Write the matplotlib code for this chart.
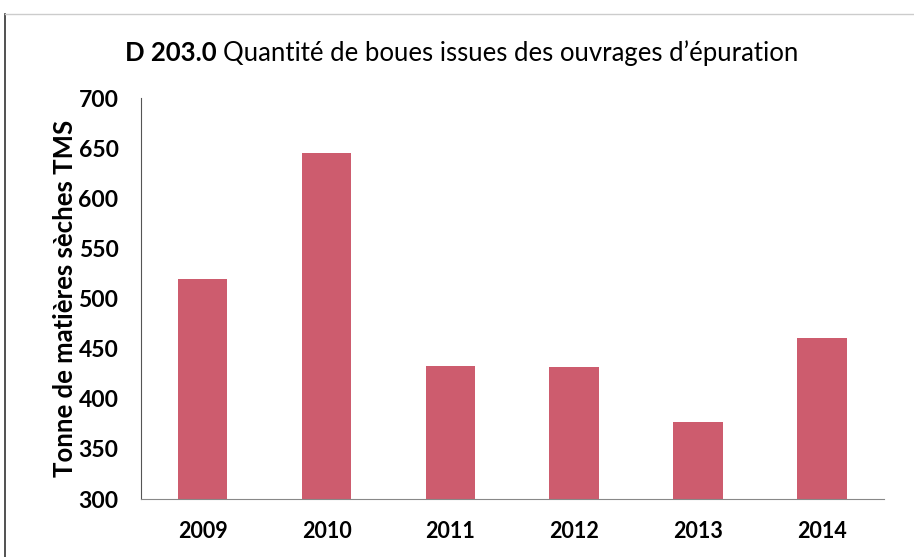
import matplotlib.pyplot as plt
from matplotlib.lines import Line2D

years = ["2009", "2010", "2011", "2012", "2013", "2014"]
tms = [520, 645, 433, 432, 377, 461]
yticks = [300, 350, 400, 450, 500, 550, 600, 650, 700]

plt.rcParams['font.family'] = ['Lato', 'DejaVu Sans']

fig = plt.figure(figsize=(9.14, 5.57), dpi=100)
ax = fig.add_axes([0.154, 0.104, 0.813, 0.72])

ax.bar(range(len(years)), tms, width=0.4, color="#cd5c6e")
ax.set_xlim(-0.5, 5.5)
ax.set_ylim(300, 700)
ax.set_yticks(yticks)
ax.set_yticklabels([str(v) for v in yticks], fontsize=16.5, fontweight="bold")
ax.set_xticks(range(len(years)))
ax.set_xticklabels(years, fontsize=15.5, fontweight="bold")
ax.tick_params(axis="both", length=0)
ax.tick_params(axis="y", pad=16)
ax.tick_params(axis="x", pad=16)

for s in ["top", "right"]:
    ax.spines[s].set_visible(False)
ax.spines["left"].set_color("#555555")
ax.spines["bottom"].set_color("#888888")

ax.set_ylabel("Tonne de matières sèches TMS", fontsize=18.5, fontweight="bold", labelpad=1)

# title: bold code followed by normal text
t1 = fig.text(0.137, 0.905, "D 203.0", fontsize=18.5, fontweight="bold", va="center")
fig.canvas.draw()
bb = t1.get_window_extent()
x2 = (bb.x1 + 6) / fig.bbox.width
fig.text(x2, 0.905, "Quantité de boues issues des ouvrages d\u2019épuration", fontsize=18.5, va="center")

# frame lines of the scanned figure
fig.add_artist(Line2D([0.006, 0.006], [0.0, 0.975], color="#333333", lw=1.2))
fig.add_artist(Line2D([0.006, 1.0], [0.975, 0.975], color="#cccccc", lw=1.0))

fig.savefig("out.png", dpi=100)
